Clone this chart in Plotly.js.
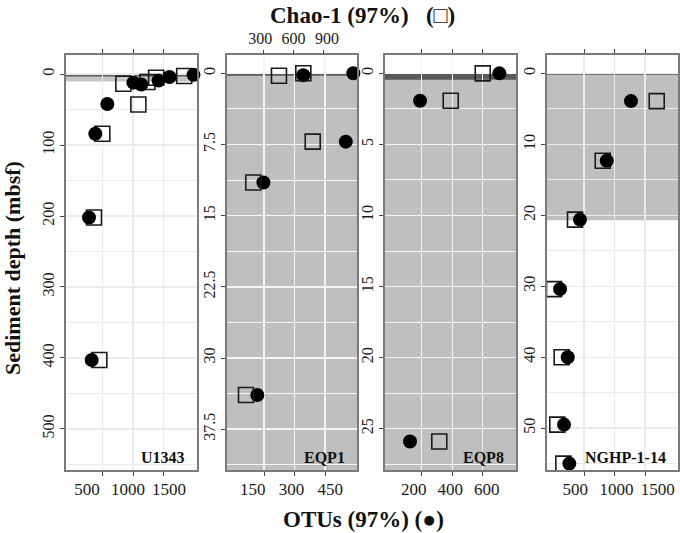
<!DOCTYPE html>
<html>
<head>
<meta charset="utf-8">
<script src="https://cdn.plot.ly/plotly-3.0.1.min.js"></script>
<style>html,body{margin:0;padding:0;background:#fff}#chart{width:680px;height:533px}</style>
</head>
<body>
<div id="chart"></div>
<script>
// ---- data ----
const sites = ["U1343", "EQP1", "EQP8", "NGHP-1-14"];

// U1343
const u1343OtuDepth  = [1, 4, 9, 12, 14.5, 42, 84, 202, 403];
const u1343Otu       = [1995, 1600, 1420, 1005, 1135, 576, 378, 274, 318];
const u1343ChaoDepth = [2.5, 5, 11, 13.6, 42.7, 84, 202, 403];
const u1343Chao      = [1842, 1380, 1236, 840, 1087, 493, 356, 444];

// EQP1
const eqp1OtuDepth  = [0, 0.2, 7.2, 11.5, 33.9];
const eqp1Otu       = [589, 343, 552, 147, 117];
const eqp1ChaoDepth = [0.25, 0, 7.2, 11.5, 33.9];
const eqp1Chao      = [455, 696, 789, 201, 129];

// EQP8
const eqp8OtuDepth  = [0, 1.93, 25.9];
const eqp8Otu       = [709, 189, 123];
const eqp8ChaoDepth = [0, 1.93, 25.9];
const eqp8Chao      = [600, 390, 315];

// NGHP-1-14
const nghpOtuDepth  = [3.9, 12.3, 20.6, 30.4, 40, 49.5, 55];
const nghpOtu       = [1270, 872, 434, 107, 233, 172, 259];
const nghpChaoDepth = [3.9, 12.3, 20.6, 30.4, 40, 49.5, 55];
const nghpChao      = [1692, 807, 352, 8, 134, 62, 161];

// shaded depth zones per site (top, bottom) and dark band bottom
const zoneTop    = [0, 0, 0, 0];
const zoneBottom = [10.5, 41.8, 27.9, 20.7];
const darkBottom = [3.2, 0.25, 0.45, 0.2];

// tick labels
const xTicks = [[500, 1000, 1500], [150, 300, 450], [200, 400, 600], [500, 1000, 1500]];
const chaoTicksEQP1 = [300, 600, 900];
const yDtick = [100, 7.5, 5, 10];

// ---- layout helpers ----
const W = 680, H = 533;
const FONT = "Liberation Serif, 'Times New Roman', serif";
const px = [[66, 197], [227, 357], [385, 516], [547, 678]];
const yDom = [1 - 470 / H, 1 - 55 / H];
const xRanges = [[-105, 2053], [-32, 607], [-41, 818], [-107, 2041]];
const yRanges = [[558, -27], [41.8, -1.93], [27.9, -1.29], [55.9, -2.6]];
const chaoRangeEQP1 = [-59, 1227];
const zoneColor = ["#c6c6c6", "#bfbfbf", "#bfbfbf", "#bfbfbf"];
const gridCol = ["#ebebeb", "#f4f4f4", "#f4f4f4", "#ebebeb"];
// tick labels in the reference are spread a little wider than the ticks
const labelSpread = [1.35, 1.27, 1.2, 1.35];
const labelShift = [-5, -3, -2, 2];
const topSpread = 1.1, topShift = 0;

const otuX = [u1343Otu, eqp1Otu, eqp8Otu, nghpOtu];
const otuY = [u1343OtuDepth, eqp1OtuDepth, eqp8OtuDepth, nghpOtuDepth];
const chaoX = [u1343Chao, eqp1Chao, eqp8Chao, nghpChao];
const chaoY = [u1343ChaoDepth, eqp1ChaoDepth, eqp8ChaoDepth, nghpChaoDepth];

const traces = [];
const layout = {
  width: W, height: H,
  margin: {l: 0, r: 0, t: 0, b: 0},
  paper_bgcolor: "#fff", plot_bgcolor: "rgba(0,0,0,0)",
  showlegend: false,
  font: {family: FONT, color: "#1a1a1a"},
  shapes: [], annotations: []
};

// range of a label-only axis whose labels sit spread around the middle tick
function spreadRange(range, pw, vals, spread, shift) {
  const k = pw / (range[1] - range[0]);
  const vmid = vals[1];
  const tmid = (vmid - range[0]) * k;
  const k2 = k * spread;
  const lr0 = vmid - (tmid + shift) / k2;
  return [lr0, lr0 + pw / k2];
}

for (let i = 0; i < 4; i++) {
  const n = i + 1;
  const xa = "x" + (n === 1 ? "" : n), ya = "y" + (n === 1 ? "" : n);
  const xk = "xaxis" + (n === 1 ? "" : n), yk = "yaxis" + (n === 1 ? "" : n);
  const dom = [px[i][0] / W, px[i][1] / W];
  const pw = px[i][1] - px[i][0];
  layout[xk] = {
    domain: dom, anchor: ya, range: xRanges[i],
    tickmode: "array", tickvals: xTicks[i], ticks: "outside", ticklen: 4, tickwidth: 1,
    tickcolor: "#444", showline: true, linecolor: "#7a7a7a", linewidth: 1.6,
    mirror: i === 1 ? true : "ticks", showgrid: true, gridcolor: gridCol[i], gridwidth: 1.4,
    zeroline: false, showticklabels: false
  };
  const lblAxis = "x" + (5 + n);
  layout["xaxis" + (5 + n)] = {
    domain: dom, anchor: ya, overlaying: xa, side: "bottom",
    range: spreadRange(xRanges[i], pw, xTicks[i], labelSpread[i], labelShift[i]),
    tickmode: "array", tickvals: xTicks[i], ticks: "outside", ticklen: 4,
    tickcolor: "rgba(0,0,0,0)", showline: false, showgrid: false, zeroline: false,
    tickangle: 0, tickfont: {family: FONT, size: 17, color: "#1a1a1a"}
  };
  traces.push({type: "scatter", mode: "markers", x: [], y: [], xaxis: lblAxis, yaxis: ya,
    hoverinfo: "skip", showlegend: false});

  layout[yk] = {
    domain: yDom, anchor: xa, range: yRanges[i], tick0: 0, dtick: yDtick[i],
    ticks: "outside", ticklen: 4, tickwidth: 1, tickcolor: "#444",
    showline: true, linecolor: "#7a7a7a", linewidth: 1.6, mirror: true,
    showgrid: true, gridcolor: gridCol[i], gridwidth: 1.4, zeroline: false,
    minor: {dtick: yDtick[i] / 2, tick0: 0, showgrid: true, gridcolor: gridCol[i], gridwidth: 1, ticks: ""},
    tickangle: -90, tickfont: {family: FONT, size: 16, color: "#1a1a1a"}
  };
  // shaded zone + dark band
  layout.shapes.push({type: "rect", layer: "below", xref: xa + " domain", yref: ya,
    x0: 0, x1: 1, y0: zoneTop[i], y1: zoneBottom[i], fillcolor: zoneColor[i], line: {width: 0}});
  layout.shapes.push({type: "rect", layer: "below", xref: xa + " domain", yref: ya,
    x0: 0, x1: 1, y0: zoneTop[i], y1: darkBottom[i], fillcolor: "#5a5a5a", line: {width: 0}});

  // Chao-1 squares
  traces.push({
    type: "scatter", mode: "markers", x: chaoX[i], y: chaoY[i],
    xaxis: i === 1 ? "x5" : xa, yaxis: ya, cliponaxis: false,
    marker: {symbol: "square-open", size: 15, color: "#1a1a1a", line: {width: 1.6, color: "#1a1a1a"}}
  });
  // OTU circles
  traces.push({
    type: "scatter", mode: "markers", x: otuX[i], y: otuY[i],
    xaxis: xa, yaxis: ya, cliponaxis: false,
    marker: {symbol: "circle", size: 14, color: "#000"}
  });

  layout.annotations.push({
    text: "<b>" + sites[i] + "</b>", xref: "paper", yref: "paper",
    x: (px[i][1] - 10) / W, y: 1 - 457 / H, xanchor: "right", yanchor: "middle",
    showarrow: false, font: {family: FONT, size: 16, color: "#111"}
  });
}

// top Chao-1 axis for EQP1 (ticks) + its label-only companion
const dom2 = [px[1][0] / W, px[1][1] / W];
layout.xaxis5 = {
  domain: dom2, anchor: "y2", overlaying: "x2", side: "top",
  range: chaoRangeEQP1, tickmode: "array", tickvals: chaoTicksEQP1,
  ticks: "outside", ticklen: 4, tickwidth: 1, tickcolor: "#444",
  showline: false, showgrid: false, zeroline: false, showticklabels: false
};
layout.xaxis10 = {
  domain: dom2, anchor: "y2", overlaying: "x2", side: "top",
  range: spreadRange(chaoRangeEQP1, px[1][1] - px[1][0], chaoTicksEQP1, topSpread, topShift),
  tickmode: "array", tickvals: chaoTicksEQP1, ticks: "outside", ticklen: 4,
  tickcolor: "rgba(0,0,0,0)", showline: false, showgrid: false, zeroline: false, tickangle: 0,
  tickfont: {family: FONT, size: 16, color: "#1a1a1a"}
};
traces.push({type: "scatter", mode: "markers", x: [], y: [], xaxis: "x10", yaxis: "y2",
  hoverinfo: "skip", showlegend: false});

layout.annotations.push(
  {text: "<b>Chao-1 (97%)   (□)</b>", xref: "paper", yref: "paper", x: 362 / W, y: 1 - 15 / H,
   xanchor: "center", yanchor: "middle", showarrow: false, font: {family: FONT, size: 23, color: "#111"}},
  {text: "<b>OTUs (97%) (●)</b>", xref: "paper", yref: "paper", x: 363 / W, y: 1 - 519 / H,
   xanchor: "center", yanchor: "middle", showarrow: false, font: {family: FONT, size: 23, color: "#111"}},
  {text: "<b>Sediment depth (mbsf)</b>", xref: "paper", yref: "paper", x: 12 / W, y: 1 - 268 / H,
   xanchor: "center", yanchor: "middle", textangle: -90, showarrow: false,
   font: {family: FONT, size: 22, color: "#111"}}
);

Plotly.newPlot("chart", traces, layout, {displayModeBar: false, staticPlot: true});
</script>
</body>
</html>
